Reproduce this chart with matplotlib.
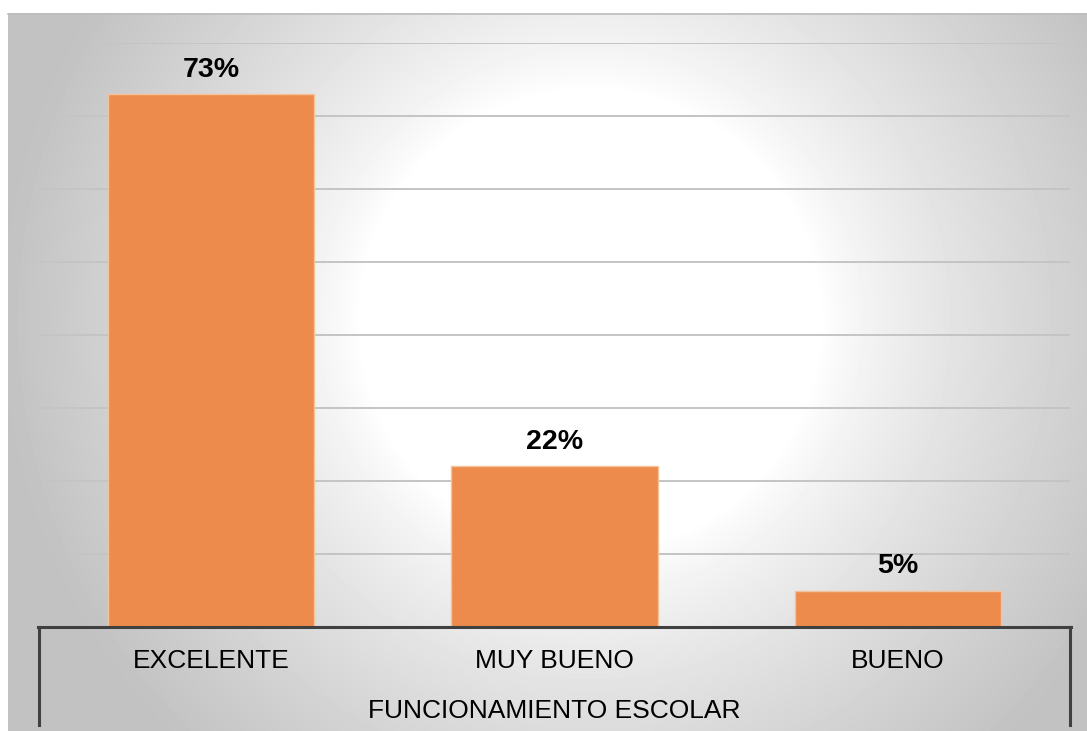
import numpy as np
import matplotlib.pyplot as plt
from matplotlib.lines import Line2D

categories = ["EXCELENTE", "MUY BUENO", "BUENO"]
values = [73, 22, 5]
labels = ["73%", "22%", "5%"]
axis_title = "FUNCIONAMIENTO ESCOLAR"

plt.rcParams['font.family'] = ['Liberation Sans', 'DejaVu Sans']

W, H = 1087, 731
fig = plt.figure(figsize=(W / 100, H / 100), dpi=100)

# radial grey gradient behind the chart: white middle, grey rim
bg = fig.add_axes([8 / W, 0, 1 - 8 / W, 1 - 13 / H])
xx, yy = np.meshgrid(np.arange(8, W), np.arange(13, H))
d = np.sqrt((xx - 590) ** 2 + (yy - 320) ** 2)
t = np.clip((d - 230) / 360, 0, 1)
shade = 1 - 0.24 * t ** 0.8
bg.imshow(shade, cmap='gray', vmin=0, vmax=1, aspect='auto',
          extent=[0, 1, 0, 1], interpolation='bilinear')
bg.axis('off')
fig.add_artist(Line2D([8 / W, 1], [1 - 13.5 / H] * 2, color='#bdbdbd', lw=1.2))

x0, x1 = 39, 1070
y0, y1 = 627, 43
ax = fig.add_axes([x0 / W, 1 - y0 / H, (x1 - x0) / W, (y0 - y1) / H])
ax.set_facecolor('none')
pos = np.arange(len(categories))
bars = ax.bar(pos, values, width=0.6, color='#ec8b4b', edgecolor='#f6c29c',
              linewidth=1, zorder=3)
ax.set_xlim(-0.5, len(categories) - 0.5)
ax.set_ylim(0, 80)
ax.set_yticks(np.arange(0, 81, 10))
ax.yaxis.grid(True, color='#c4c4c4', lw=1.4, zorder=0)
ax.tick_params(left=False, labelleft=False, bottom=False, labelbottom=False)
for s in ax.spines.values():
    s.set_visible(False)

for b, lab in zip(bars, labels):
    ax.annotate(lab, (b.get_x() + b.get_width() / 2, b.get_height()),
                xytext=(0, 8), textcoords='offset points', ha='center',
                va='bottom', fontsize=20.5, fontweight='bold', color='black')

# category axis box
lc = '#404040'
fig.add_artist(Line2D([(x0 - 1) / W, (x1 + 1) / W], [1 - y0 / H] * 2, color=lc, lw=2.2))
for xv in (x0, x1):
    fig.add_artist(Line2D([xv / W] * 2, [1 - y0 / H, 1 - 725 / H], color=lc, lw=2.2))

for p, c in zip(pos, categories):
    ax.text(p, -0.058, c, transform=ax.get_xaxis_transform(), ha='center',
            va='center', fontsize=19)
fig.text((x0 + x1) / 2 / W, 1 - 711 / H, axis_title, ha='center', va='center',
         fontsize=19)

fig.savefig('out.png', dpi=100)
